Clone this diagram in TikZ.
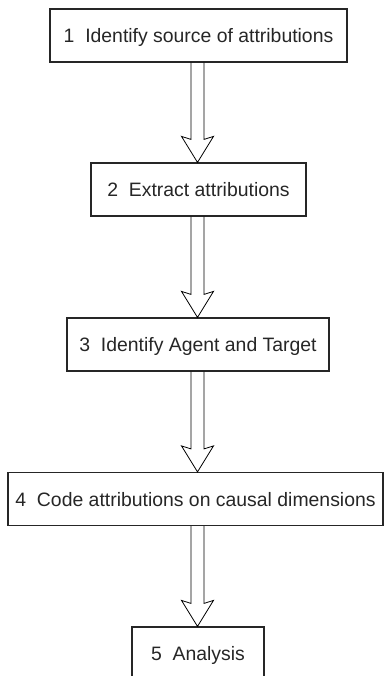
\documentclass[tikz,border=0pt]{standalone}
\usepackage{fontspec}
\setmainfont{Liberation Sans}
\usetikzlibrary{calc}

\tikzset{
  stepbox/.style={draw=black!85, line width=1.2pt, minimum height=53pt,
    inner xsep=0pt, inner ysep=0pt, text height=14pt, text depth=0pt,
    font=\fontsize{19.4pt}{23pt}\selectfont, text=black!85},
  hollow/.style={draw=black, line width=0.8pt, line join=miter},
}

% hollow block arrow from the bottom of #1 to the top of #2
\newcommand\blockarrow[2]{%
  \draw[hollow] ($(#1.south -| col)+(-6.5,0)$) -- ($(#2.north -| col)+(-6.5,-23)$)
    -- ++(-9.5,-3) -- (#2.north -| col) -- ++(16,-26) -- ++(-9.5,3)
    -- ($(#1.south -| col)+(6.5,0)$);%
}

\begin{document}
\begin{tikzpicture}[x=1pt,y=-1pt]

    \useasboundingbox (0,0) rectangle (385,676);
    \coordinate (col) at (197.5,0);

    \node[stepbox, minimum width=297pt] (identify) at (198.5,35.5) {1\ \ Identify source of attributions};
    \node[stepbox, minimum width=215pt] (extract) at (198.5,189.5) {2\ \ Extract attributions};
    \node[stepbox, minimum width=262pt] (agent) at (198,344.5) {3\ \ Identify Agent and Target};
    \node[stepbox, minimum width=375pt] (code) at (195.5,499) {4\ \ Code attributions on causal dimensions};
    \node[stepbox, minimum width=132pt] (analysis) at (198,653.5) {5\ \ Analysis};

    \blockarrow{identify}{extract}
    \blockarrow{extract}{agent}
    \blockarrow{agent}{code}
    \blockarrow{code}{analysis}

\end{tikzpicture}
\end{document}
